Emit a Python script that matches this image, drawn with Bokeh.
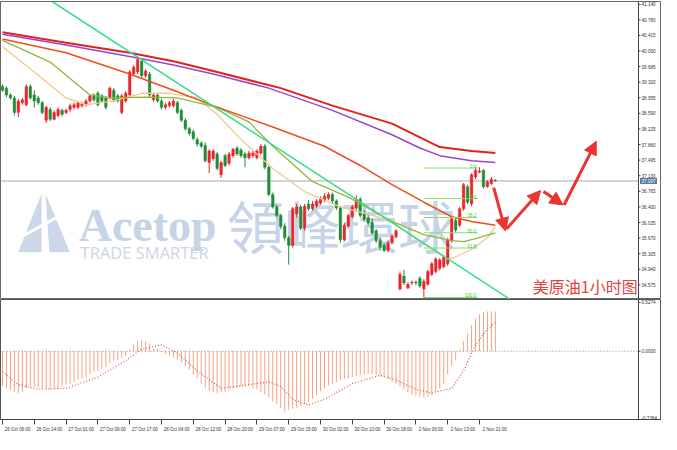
from bokeh.plotting import figure
from bokeh.layouts import column
from bokeh.models import (Range1d, FixedTicker, Span, Arrow, NormalHead,
                          ColumnDataSource, CustomJSTickFormatter)
from bokeh.core.properties import value
from bokeh.embed import file_html
from bokeh.resources import INLINE

# ---------------- data (US crude oil, 1 hour bars) ----------------
opens = [
    39.22, 39.18, 39.02, 38.95, 38.61, 38.84, 38.79, 39.22, 39.02, 38.95,
    38.84, 38.43, 38.68, 38.45, 38.54, 38.66, 38.61, 38.68, 38.73, 38.73,
    38.77, 38.79, 38.88, 39.02, 39.06, 39.00, 38.95, 38.95, 39.13, 39.00,
    38.61, 38.88, 39.02, 39.51, 39.56, 39.81, 39.47, 39.51, 38.91, 39.02,
    38.88, 38.73, 38.77, 38.77, 38.84, 38.66, 38.43, 38.23, 38.16, 37.98,
    37.89, 37.84, 37.44, 37.53, 37.64, 37.15, 37.60, 37.42, 37.60, 37.78,
    37.73, 37.64, 37.55, 37.60, 37.55, 37.66, 37.82, 37.33, 36.69, 36.40,
    36.20, 35.95, 35.68, 35.50, 36.24, 36.40, 35.90, 36.47, 36.36, 36.42,
    36.49, 36.56, 36.60, 36.69, 36.54, 36.38, 35.63, 35.95, 36.17, 36.38,
    36.58, 36.24, 36.15, 36.04, 35.84, 35.61, 35.50, 35.38, 35.56, 35.70,
    34.48, 34.78, 34.50, 34.62, 34.64, 34.73, 34.48, 34.59, 34.82, 34.89,
    34.96, 35.00, 35.07, 35.61, 36.08, 35.97, 36.36, 36.87, 36.47, 37.10,
    37.21, 37.26, 36.87, 36.94, 37.02]
closes = [
    39.13, 39.02, 38.95, 38.61, 38.88, 38.91, 39.22, 38.95, 38.88, 38.84,
    38.61, 38.73, 38.45, 38.61, 38.68, 38.57, 38.66, 38.77, 38.79, 38.84,
    38.82, 38.88, 39.00, 38.91, 38.79, 38.88, 38.73, 39.18, 38.91, 38.88,
    39.00, 39.06, 39.56, 39.67, 39.85, 39.47, 39.58, 39.02, 39.02, 38.88,
    38.73, 38.79, 38.84, 38.88, 38.61, 38.43, 38.23, 38.12, 38.00, 37.87,
    37.82, 37.48, 37.71, 37.71, 37.30, 37.44, 37.37, 37.64, 37.75, 37.64,
    37.60, 37.55, 37.66, 37.66, 37.71, 37.82, 37.33, 36.69, 36.40, 36.20,
    35.95, 35.68, 35.50, 36.36, 36.40, 35.90, 36.42, 36.36, 36.47, 36.54,
    36.58, 36.65, 36.69, 36.54, 36.38, 35.63, 35.97, 36.20, 36.40, 36.58,
    36.20, 36.11, 36.02, 35.79, 35.61, 35.45, 35.38, 35.56, 35.72, 35.84,
    34.82, 34.62, 34.59, 34.64, 34.62, 34.55, 34.66, 34.89, 35.07, 35.18,
    35.16, 35.23, 35.63, 36.13, 35.86, 36.36, 36.92, 36.51, 37.15, 37.26,
    37.24, 36.87, 36.99, 37.05, 37.007]
highs = [
    39.27, 39.22, 39.06, 39.00, 38.93, 38.95, 39.27, 39.27, 39.13, 39.00,
    38.88, 38.77, 38.73, 38.66, 38.73, 38.70, 38.70, 38.82, 38.84, 38.88,
    38.86, 38.93, 39.04, 39.06, 39.11, 39.04, 39.00, 39.22, 39.18, 39.04,
    39.04, 39.11, 39.61, 39.72, 39.92, 39.85, 39.63, 39.56, 39.06, 39.06,
    38.93, 38.84, 38.88, 38.93, 38.88, 38.70, 38.48, 38.27, 38.21, 38.03,
    37.94, 37.91, 37.75, 37.75, 37.69, 37.48, 37.64, 37.69, 37.78, 37.82,
    37.78, 37.69, 37.71, 37.71, 37.75, 37.87, 37.87, 37.37, 36.74, 36.45,
    36.24, 36.02, 35.72, 36.40, 36.47, 36.45, 36.47, 36.56, 36.54, 36.58,
    36.65, 36.72, 36.74, 36.74, 36.58, 36.42, 36.02, 36.24, 36.45, 36.67,
    36.63, 36.33, 36.24, 36.13, 35.88, 35.68, 35.56, 35.61, 35.77, 35.88,
    34.89, 34.93, 34.64, 34.68, 34.68, 34.78, 34.71, 34.93, 35.11, 35.23,
    35.20, 35.27, 35.68, 36.20, 36.15, 36.40, 36.96, 36.92, 37.19, 37.33,
    37.33, 37.28, 37.03, 37.10, 37.05]
lows = [
    39.09, 38.97, 38.91, 38.54, 38.50, 38.79, 38.75, 38.91, 38.73, 38.79,
    38.57, 38.36, 38.41, 38.43, 38.50, 38.52, 38.57, 38.63, 38.68, 38.68,
    38.73, 38.75, 38.84, 38.86, 38.75, 38.84, 38.68, 38.91, 38.86, 38.84,
    38.57, 38.84, 38.97, 39.47, 39.51, 39.42, 39.42, 38.97, 38.86, 38.84,
    38.68, 38.68, 38.73, 38.73, 38.57, 38.39, 38.18, 38.07, 37.96, 37.82,
    37.78, 37.44, 37.19, 37.48, 37.26, 37.08, 37.33, 37.37, 37.55, 37.60,
    37.55, 37.33, 37.51, 37.55, 37.51, 37.62, 37.28, 36.65, 36.36, 36.15,
    35.88, 35.61, 35.05, 35.45, 36.15, 35.86, 35.84, 36.31, 36.31, 36.38,
    36.45, 36.51, 36.56, 36.49, 36.33, 35.56, 35.59, 35.90, 36.13, 36.31,
    36.15, 36.06, 35.97, 35.75, 35.56, 35.38, 35.34, 35.34, 35.52, 35.66,
    34.44, 34.57, 34.48, 34.57, 34.57, 34.50, 34.28, 34.55, 34.78, 34.84,
    34.91, 34.96, 35.02, 35.56, 35.81, 35.93, 36.31, 36.47, 36.42, 37.05,
    37.19, 36.83, 36.85, 36.92, 36.99]

time_labels = ["26 Oct 06:00", "26 Oct 14:00", "27 Oct 01:00", "27 Oct 09:00",
               "27 Oct 17:00", "28 Oct 04:00", "28 Oct 12:00", "28 Oct 20:00",
               "29 Oct 07:00", "29 Oct 15:00", "30 Oct 02:00", "30 Oct 10:00",
               "30 Oct 18:00", "2 Nov 05:00", "2 Nov 13:00", "2 Nov 21:00"]
price_ticks = [41.140, 40.780, 40.415, 40.050, 39.685, 39.320, 38.955, 38.590,
               38.225, 37.860, 37.495, 37.130, 36.765, 36.400, 36.035, 35.670,
               35.305, 34.940, 34.575]
macd_ticks = [0.5274, 0.0, -0.7364]
last_price = 37.007

# moving averages (bar index, price)
ma_red_bars = [0, 16, 32, 43, 53, 70, 83, 98, 110, 118, 124]
ma_red = [40.49, 40.24, 40.01, 39.81, 39.58, 39.18, 38.77, 38.35, 37.80, 37.71, 37.66]
ma_purple_bars = [0, 16, 32, 43, 53, 67, 83, 98, 105, 110, 118, 124]
ma_purple = [40.44, 40.19, 39.92, 39.72, 39.51, 39.18, 38.66, 38.09, 37.78, 37.60, 37.48, 37.44]
ma_orange_bars = [0, 16, 32, 43, 53, 68, 81, 90, 98, 106, 113, 118, 124]
ma_orange = [40.33, 40.01, 39.51, 39.13, 38.77, 38.27, 37.82, 37.37, 36.92, 36.51, 36.17, 36.06, 35.97]
ma_olive_bars = [0, 12, 22, 27, 36, 44, 54, 62, 68, 78, 87, 98, 106, 113, 116, 119, 124]
ma_olive = [40.30, 39.79, 39.02, 38.95, 38.97, 38.95, 38.73, 38.39, 37.82, 36.99, 36.63,
            36.06, 35.75, 35.61, 35.59, 35.66, 35.79]
ma_tan_bars = [0, 8, 16, 21, 28, 35, 42, 49, 54, 60, 68, 76, 85, 93, 98, 103, 108, 112,
               114, 118, 122, 124]
ma_tan = [40.15, 39.56, 38.95, 38.79, 38.88, 39.06, 39.06, 38.95, 38.57, 37.98, 37.30,
          36.76, 36.40, 36.20, 36.06, 35.72, 35.41, 35.18, 35.23, 35.41, 35.68, 35.93]

trend_bars = [12.5, 128.5]
trend_prices = [41.208, 34.188]

fib_levels = [0.0, 23.6, 38.2, 50.0, 61.8, 100.0]
fib_labels = ["0.0", "23.6", "38.2", "50.0", "61.8", "100.0"]
fib_high = 37.31
fib_low = 34.28
fib_start_bar = 106
fib_end_bar = 119.5

macd_hist = [
    -0.38, -0.40, -0.42, -0.44, -0.45, -0.44, -0.40, -0.38, -0.38, -0.39,
    -0.40, -0.41, -0.41, -0.41, -0.40, -0.38, -0.36, -0.35, -0.33, -0.31,
    -0.29, -0.28, -0.25, -0.22, -0.21, -0.19, -0.17, -0.13, -0.10, -0.09,
    -0.07, -0.05, 0.02, 0.07, 0.11, 0.12, 0.11, 0.08, 0.03, 0.02,
    -0.01, -0.03, -0.05, -0.07, -0.09, -0.12, -0.16, -0.20, -0.25, -0.29,
    -0.35, -0.40, -0.43, -0.44, -0.45, -0.44, -0.44, -0.43, -0.41, -0.40,
    -0.38, -0.38, -0.38, -0.40, -0.41, -0.44, -0.47, -0.50, -0.54, -0.57,
    -0.61, -0.65, -0.63, -0.62, -0.61, -0.59, -0.57, -0.55, -0.51, -0.47,
    -0.43, -0.40, -0.37, -0.35, -0.33, -0.31, -0.30, -0.29, -0.28, -0.27,
    -0.26, -0.25, -0.24, -0.25, -0.26, -0.27, -0.28, -0.30, -0.33, -0.35,
    -0.38, -0.41, -0.44, -0.47, -0.48, -0.50, -0.50, -0.49, -0.47, -0.44,
    -0.40, -0.35, -0.25, -0.16, -0.09, 0.01, 0.11, 0.19, 0.28, 0.35,
    0.40, 0.42, 0.43, 0.43, 0.43]
signal_bars = [0, 4, 9, 16, 24, 31, 35, 40, 44, 49, 55, 62, 67, 70, 73, 77, 81, 88, 95,
               99, 104, 108, 113, 116, 119, 122, 124]
signal_vals = [-0.22, -0.36, -0.41, -0.40, -0.28, -0.10, 0.02, 0.07, -0.02, -0.21, -0.40,
               -0.36, -0.33, -0.38, -0.52, -0.58, -0.52, -0.35, -0.26, -0.31, -0.41, -0.45,
               -0.40, -0.21, 0.07, 0.24, 0.31]

# ---------------- helpers for decorations (reference pixel -> data) ----------------
def bx(px):
    return (px - 2.0) / 4.07


def py(pix):
    return 41.208 - pix / 44.3


RED = "#e8262c"
GREEN = "#1f8c38"
WM = "#c6d4e7"
AXC = "#444444"
TXT = "#333333"
FONT = "Liberation Sans"

W = 661
AXIS_X = 160.0                         # bar position of the scale line (MT4 style)
PX_PER_BAR = 638.0 / (AXIS_X + 0.5)
X_END = -0.5 + W / PX_PER_BAR
xr = Range1d(-0.5, X_END)
PY0, PY1 = 34.233, 41.208
MY0, MY1 = -0.7364, 0.5585
tick_len = 2.0 / PX_PER_BAR
lab_x = AXIS_X + 3.0 / PX_PER_BAR


def scale(fig, lo, hi, ticks, labels, baselines):
    fig.segment(x0=[AXIS_X], y0=[lo], x1=[AXIS_X], y1=[hi], line_color=AXC, line_width=1)
    fig.segment(x0=[AXIS_X] * len(ticks), y0=ticks, x1=[AXIS_X + tick_len] * len(ticks),
                y1=ticks, line_color=AXC, line_width=1)
    src = ColumnDataSource(dict(x=[lab_x] * len(ticks), y=ticks, t=labels, b=baselines))
    fig.text(x="x", y="y", text="t", text_baseline="b", source=src,
             text_font=value(FONT), text_font_size="4.6px", text_color=TXT,
             text_align="left")


p = figure(width=W, height=299, x_range=xr, y_range=Range1d(PY0, PY1),
           output_backend="svg", toolbar_location=None, y_axis_location=None,
           x_axis_location=None, min_border_left=0, min_border_right=0,
           min_border_top=1, min_border_bottom=0)
p.grid.visible = False
p.outline_line_color = "#666666"
p.outline_line_width = 1
p.background_fill_color = "white"
p.border_fill_color = "white"

# watermark
p.patches(xs=[[bx(18), bx(42), bx(42)], [bx(46), bx(50), bx(71)]],
          ys=[[py(260), py(260), py(199)], [py(199), py(260), py(260)]],
          fill_color=WM, line_color=None, fill_alpha=0.9)
p.line([bx(14), bx(74)], [py(248), py(215)], line_color="white", line_width=3)
p.text(x=[bx(80)], y=[py(232)], text=["Acetop"], text_font=value("Liberation Serif"),
       text_font_style="bold", text_font_size="46px", text_color=WM,
       text_align="left", text_baseline="alphabetic")
p.text(x=[bx(82)], y=[py(260)], text=["TRADE SMARTER"], text_font=value("Open Sans"),
       text_font_size="16.5px", text_color="#cdd6e2",
       text_align="left", text_baseline="alphabetic")
p.text(x=[bx(232)], y=[py(231)], text=["領峰環球"], text_font=value("Noto Sans CJK TC"),
       text_font_size="57px", text_color=WM, text_align="left", text_baseline="middle")

# current price line
p.segment(x0=[-0.5], y0=[last_price], x1=[AXIS_X], y1=[last_price],
          line_color="#a8a8a8", line_width=1)

# candles
n = len(opens)
bars = list(range(n))
tops, bots, cols = [], [], []
for o, c in zip(opens, closes):
    t, b = max(o, c), min(o, c)
    if t - b < 0.012:
        t, b = t + 0.006, b - 0.006
    tops.append(t)
    bots.append(b)
    cols.append(RED if c >= o else GREEN)
src = ColumnDataSource(dict(x=bars, h=highs, l=lows, top=tops, bottom=bots, color=cols))
p.segment("x", "h", "x", "l", source=src, line_color="color", line_width=1)
p.vbar("x", 0.66, "top", "bottom", source=src, fill_color="color", line_color="color",
       line_width=0.4)

# moving averages
p.line(ma_tan_bars, ma_tan, line_color="#f3c88c", line_width=1.3)
p.line(ma_olive_bars, ma_olive, line_color="#93b53a", line_width=1.3)
p.line(ma_orange_bars, ma_orange, line_color="#f04d1c", line_width=1.5)
p.line(ma_purple_bars, ma_purple, line_color="#9a45d0", line_width=1.5)
p.line(ma_red_bars, ma_red, line_color="#e3221e", line_width=2)

# trend line
p.line(trend_bars, trend_prices, line_color="#34de86", line_width=1.5)

# fibonacci retracement
fib_prices = [fib_high - lv / 100.0 * (fib_high - fib_low) for lv in fib_levels]
p.segment(x0=[fib_start_bar] * len(fib_prices), y0=fib_prices,
          x1=[fib_end_bar] * len(fib_prices), y1=fib_prices,
          line_color="#84e06a", line_width=1)
p.text(x=[fib_end_bar - 0.3] * len(fib_prices), y=fib_prices, text=fib_labels,
       text_font=value(FONT), text_font_size="4.5px", text_color="#4cbf3c",
       text_align="right", text_baseline="bottom")

# projected path arrows
ARC = "#ec3434"
segs = [((505, 193), (517, 238)), ((518, 236), (553, 196)),
        ((556, 197), (576, 211)), ((577, 211), (610, 145))]
for (a, b) in segs:
    p.add_layout(Arrow(end=NormalHead(size=13, fill_color=ARC, line_color=ARC, line_width=1),
                       x_start=bx(a[0]), y_start=py(a[1]), x_end=bx(b[0]), y_end=py(b[1]),
                       line_color=ARC, line_width=3))

p.text(x=[bx(545)], y=[py(295)], text=["美原油1小时图"], text_font=value("Noto Sans CJK SC"),
       text_font_size="16px", text_color="#e8413c", text_align="left", text_baseline="middle")

# price scale
scale(p, PY0, PY1, price_ticks, ["%.3f" % t for t in price_ticks],
      ["middle"] * len(price_ticks))
box_w = 17.0 / PX_PER_BAR
p.rect(x=[AXIS_X + 1.5 / PX_PER_BAR + box_w / 2], y=[last_price], width=box_w,
       height=0.14, fill_color="#5a7aa8", line_color=None)
p.text(x=[lab_x], y=[last_price], text=["%.3f" % last_price],
       text_font=value(FONT), text_font_size="4.6px", text_color="white",
       text_align="left", text_baseline="middle")

# ---------------- MACD panel ----------------
q = figure(width=W, height=135, x_range=xr, y_range=Range1d(MY0, MY1),
           output_backend="svg", toolbar_location=None, y_axis_location=None,
           min_border_left=0, min_border_right=0, min_border_top=0, min_border_bottom=14)
q.grid.visible = False
q.outline_line_color = "#555555"
q.outline_line_width = 1
q.background_fill_color = "white"
q.border_fill_color = "white"

q.segment(x0=bars, y0=[0.0] * n, x1=bars, y1=macd_hist, line_color="#f6a282", line_width=1)
q.segment(x0=[-0.5], y0=[0.0], x1=[AXIS_X], y1=[0.0], line_color="#8c8c8c",
          line_dash="1 2", line_width=1)
q.line(signal_bars, signal_vals, line_color="#e05252", line_dash="1 2", line_width=1.2)

scale(q, MY0, MY1, macd_ticks, ["%.4f" % t for t in macd_ticks],
      ["middle", "middle", "bottom"])

qx = q.xaxis[0]
label_pos = [8 * k + 3.8 for k in range(len(time_labels))]
tick_pos = [8 * k for k in range(len(time_labels))]
qx.ticker = FixedTicker(ticks=label_pos, minor_ticks=tick_pos)
qx.formatter = CustomJSTickFormatter(args=dict(labels=time_labels), code="""
    const i = Math.round((tick - 3.8) / 8);
    return (i >= 0 && i < labels.length) ? labels[i] : "";
""")
qx.axis_line_color = AXC
qx.major_tick_line_color = None
qx.major_tick_out = 0
qx.major_tick_in = 0
qx.minor_tick_line_color = AXC
qx.minor_tick_out = 5
qx.minor_tick_in = 0
qx.major_label_text_font_size = "4.5px"
qx.major_label_text_font = FONT
qx.major_label_text_color = TXT
qx.major_label_standoff = 2

layout = column(p, q, spacing=0)
open("out.html", "w").write(file_html(layout, INLINE))
